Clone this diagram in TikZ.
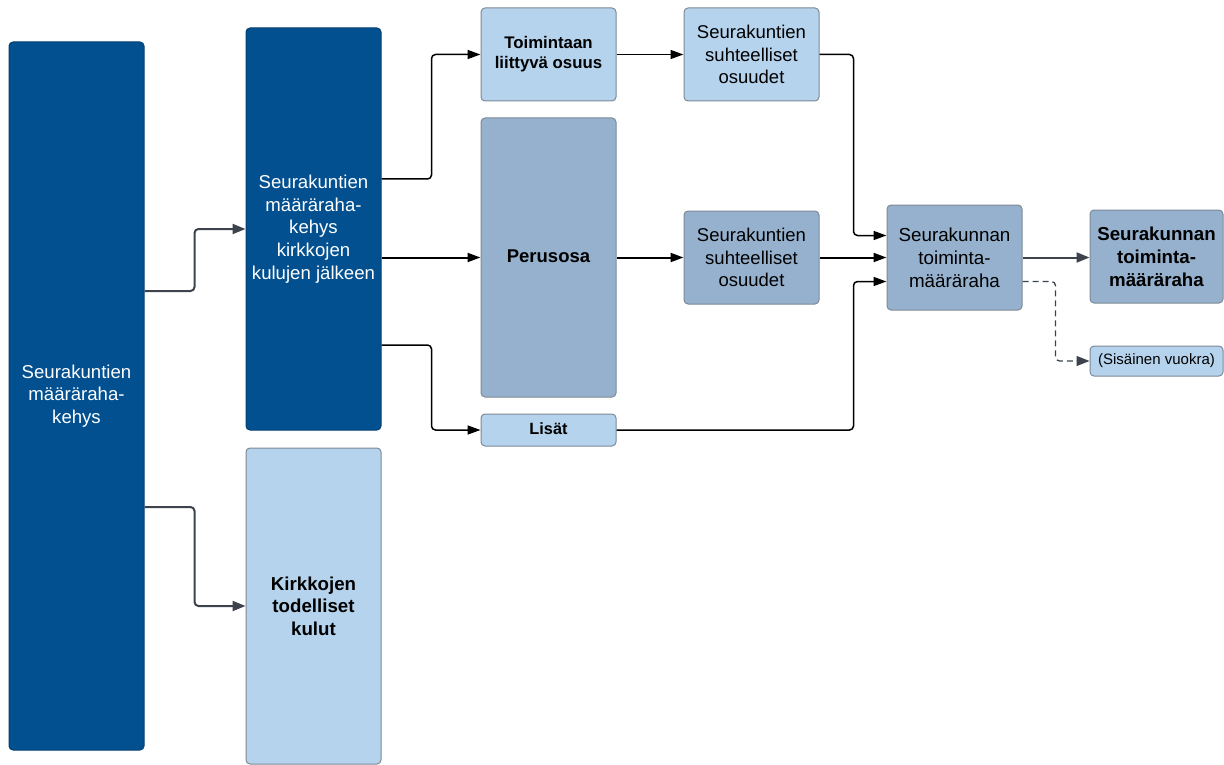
\documentclass[tikz,border=0pt]{standalone}
\usepackage{fontspec}
\setmainfont{Liberation Sans}
\usetikzlibrary{arrows.meta,calc}
\definecolor{dkblue}{HTML}{02508F}
\definecolor{ltblue}{HTML}{B5D3EC}
\definecolor{mdblue}{HTML}{95B1CE}
\definecolor{edgegray}{HTML}{7D8A97}
\definecolor{arrgray}{HTML}{3C434D}
\tikzset{
  box/.style={draw=edgegray, line width=1pt, rounded corners=4pt, align=center, inner sep=1pt, anchor=center},
  darkbox/.style={box, fill=dkblue, draw=dkblue!80!black, text=white, font=\fontsize{18.6}{22.7}\selectfont},
  lightbox/.style={box, fill=ltblue, text=black},
  midbox/.style={box, fill=mdblue, text=black},
  conn/.style={line width=1.5pt, black, rounded corners=4pt, -{Triangle[length=13pt,width=9pt]}},
  thickconn/.style={conn, line width=2pt},
  grayconn/.style={conn, line width=2pt, draw=arrgray, -{Triangle[length=13pt,width=10pt,fill=arrgray]}},
  dashconn/.style={grayconn, line width=1.3pt, dashed, dash pattern=on 6pt off 4pt},
}
\begin{document}
\begin{tikzpicture}[x=1pt,y=-1pt]
\useasboundingbox[fill=white] (0,0) rectangle (1224,765);
% nodes
\node[darkbox, minimum width=135pt, minimum height=708pt] (A) at (76.5,396) {Seurakuntien\\määräraha-\\kehys};
\node[darkbox, minimum width=135pt, minimum height=402pt] (B) at (313.5,229) {Seurakuntien\\määräraha-\\kehys\\kirkkojen\\kulujen jälkeen};
\node[lightbox, minimum width=135pt, minimum height=316pt, font=\bfseries\fontsize{18.7}{22.5}\selectfont] (C) at (313.5,606) {Kirkkojen\\todelliset\\kulut};
\node[lightbox, minimum width=135pt, minimum height=93pt, font=\bfseries\fontsize{16.8}{20}\selectfont] (D) at (548.5,54.5) {Toimintaan\\liittyvä osuus};
\node[midbox, minimum width=135pt, minimum height=279pt, font=\bfseries\fontsize{18.5}{22}\selectfont] (E) at (548.5,257.5) {\raisebox{3pt}{Perusosa}};
\node[lightbox, minimum width=135pt, minimum height=32pt, font=\bfseries\fontsize{16.3}{20}\selectfont] (F) at (548.5,430) {\raisebox{2pt}{Lisät}};
\node[lightbox, minimum width=135pt, minimum height=93pt, font=\fontsize{18.5}{22.5}\selectfont] (G) at (751.5,54.5) {Seurakuntien\\suhteelliset\\osuudet};
\node[midbox, minimum width=135pt, minimum height=93pt, font=\fontsize{18.5}{22.5}\selectfont] (H) at (751.5,257.5) {Seurakuntien\\suhteelliset\\osuudet};
\node[midbox, minimum width=135pt, minimum height=105pt, font=\fontsize{18.8}{23}\selectfont] (I) at (954.5,257.5) {Seurakunnan\\toiminta-\\määräraha};
\node[midbox, minimum width=133pt, minimum height=93pt, font=\bfseries\fontsize{18.7}{23}\selectfont] (J) at (1156.5,256.5) {Seurakunnan\\toiminta-\\määräraha};
\node[lightbox, minimum width=133pt, minimum height=30pt, font=\fontsize{15}{18}\selectfont] (K) at (1156.5,361) {(Sisäinen vuokra)};
% connectors
\draw[grayconn] ([yshift=105pt]A.east) -- ++(50,0) |- (B.west);
\draw[grayconn] ([yshift=-111pt]A.east) -- ++(50,0) |- (C.west);
\draw[conn] ([yshift=50pt]B.east) -- ++(50,0) |- (D.west);
\draw[thickconn] (B.east |- E.west) -- (E.west);
\draw[conn] ([yshift=-116pt]B.east) -- ++(50,0) |- (F.west);
\draw[conn] (D.east) -- (G.west);
\draw[thickconn] (E.east) -- (H.west);
\draw[conn] (G.east) -- ++(34,0) |- ([yshift=22pt]I.west);
\draw[thickconn] (H.east) -- (I.west);
\draw[conn] (F.east) -- ($(F.east -| G.east)+(34,0)$) |- ([yshift=-24pt]I.west);
\draw[grayconn] (I.east) -- (I.east -| J.west);
\draw[dashconn] ([yshift=-24pt]I.east) -- ++(33,0) |- (K.west);
\end{tikzpicture}
\end{document}
